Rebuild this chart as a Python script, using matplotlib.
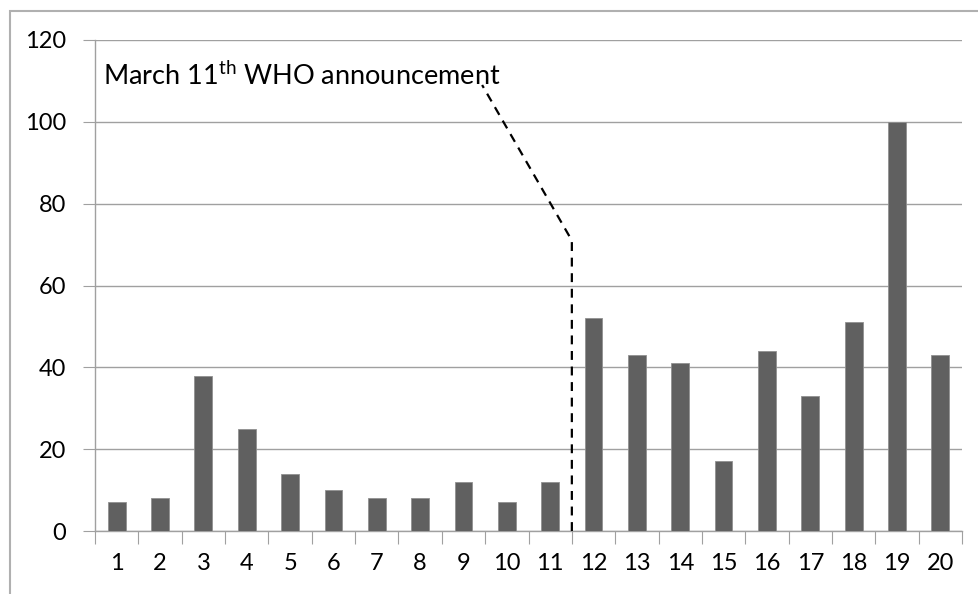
import matplotlib
matplotlib.use("Agg")
import matplotlib.pyplot as plt
from matplotlib.patches import Rectangle

plt.rcParams['font.family'] = ['Lato', 'DejaVu Sans']
plt.rcParams['mathtext.fontset'] = 'custom'
plt.rcParams['mathtext.rm'] = 'Lato'

# data
days = list(range(1, 21))
counts = [7, 8, 38, 25, 14, 10, 8, 8, 12, 7, 12, 52, 43, 41, 17, 44, 33, 51, 100, 43]
yticks = [0, 20, 40, 60, 80, 100, 120]
note_x = [11.5, 11.5, 9.43]
note_y = [0, 71, 109]

W, H = 979, 594
fig = plt.figure(figsize=(W / 100, H / 100), dpi=100)

# outer frame of the chart area
fig.patches.append(Rectangle((10 / W, -0.1), 1.2, (H - 11) / H + 0.1,
                             transform=fig.transFigure, fill=False,
                             edgecolor='#b0b0b0', linewidth=1.5))

ax = fig.add_axes([95 / W, (H - 531) / H, (962 - 95) / W, (531 - 40) / H])

ax.bar(days, counts, width=0.41, color='#606060', edgecolor='#909090',
       linewidth=0.6, zorder=3)

ax.set_xlim(0.5, 20.5)
ax.set_ylim(0, 120)

# gridlines
ax.set_yticks(yticks)
ax.yaxis.grid(True, color='#a0a0a0', linewidth=1.0)
ax.set_axisbelow(True)
ax.tick_params(axis='y', length=9, color='#a0a0a0', labelsize=17, pad=12)

# category boundary ticks, labels in the middle
ax.set_xticks([i + 0.5 for i in range(0, 21)])
ax.set_xticklabels([])
ax.set_xticks(days, minor=True)
ax.set_xticklabels([str(d) for d in days], minor=True)
ax.tick_params(axis='x', which='major', length=9, color='#a0a0a0')
ax.tick_params(axis='x', which='minor', length=0, labelsize=17, pad=16)

for s in ['top', 'right']:
    ax.spines[s].set_visible(False)
for s in ['left', 'bottom']:
    ax.spines[s].set_color('#a0a0a0')
    ax.spines[s].set_linewidth(1.0)

# announcement marker
ax.plot(note_x, note_y, color='black', linestyle=(0, (4, 3)), linewidth=1.6,
        clip_on=False, zorder=4)
ax.text(0.68, 109, r'March 11$^{\mathrm{th}}$ WHO announcement', fontsize=19.5,
        ha='left', va='baseline', zorder=5)

fig.savefig('out.png', dpi=100)
